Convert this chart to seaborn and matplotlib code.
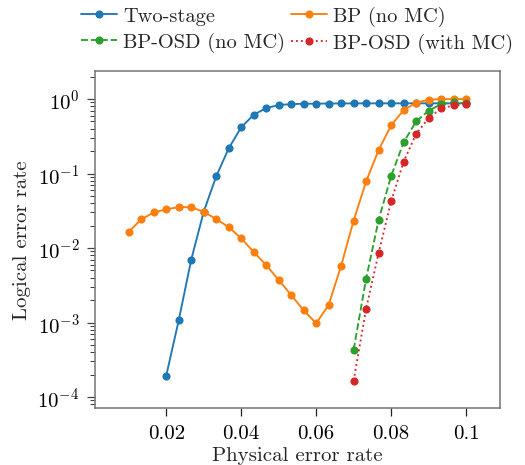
import numpy as np
import pandas as pd
import matplotlib
matplotlib.use("Agg")
import matplotlib.pyplot as plt
import seaborn as sns

# Physical error rates (grid step 1/300 from 0.01 to 0.1)
p_all = np.linspace(0.01, 0.1, 28)
p_two_stage = p_all[3:]
p_osd = p_all[18:]

two_stage = [1.93e-4, 1.07e-3, 6.97e-3, 0.0307, 0.0917, 0.218, 0.417, 0.616,
             0.757, 0.831, 0.857, 0.865, 0.868, 0.872, 0.874, 0.875, 0.876,
             0.876, 0.877, 0.877, 0.877, 0.877, 0.877, 0.877, 0.877]
bp_no_mc = [0.01655, 0.0243, 0.0301, 0.0330, 0.0355, 0.0352, 0.0307, 0.0245,
            0.0191, 0.0135, 0.00884, 0.00591, 0.00372, 0.00234, 0.00146,
            0.000975, 0.00172, 0.00579, 0.0233, 0.0785, 0.207, 0.443, 0.711,
            0.893, 0.98, 1.0, 1.0, 1.0]
bposd_no_mc = [4.32e-4, 3.87e-3, 0.0238, 0.0925, 0.262, 0.501, 0.697, 0.857,
               0.90, 0.88]
bposd_mc = [1.66e-4, 1.53e-3, 8.57e-3, 0.0423, 0.144, 0.339, 0.556, 0.75,
            0.823, 0.857]

labels = ["Two-stage", "BP (no MC)", "BP-OSD (no MC)", "BP-OSD (with MC)"]
colors = ["#1f77b4", "#ff7f0e", "#2ca02c", "#d62728"]
styles = ["-", "-", "--", ":"]

sns.set_style("ticks")
plt.rcParams.update({
    "font.family": "serif",
    "font.serif": ["cmr10"],
    "mathtext.fontset": "cm",
    "axes.formatter.use_mathtext": True,
    "font.size": 10,
    "axes.edgecolor": "#777777",
    "axes.linewidth": 0.75,
    "xtick.color": "#222222",
    "ytick.color": "#444444",
    "xtick.labelcolor": "black",
    "ytick.labelcolor": "black",
})

fig = plt.figure(figsize=(3.5, 466 / 150), dpi=150)
ax = fig.add_axes([0.181, 0.1217, 0.952 - 0.181, 0.846 - 0.1217])

series = [(p_two_stage, two_stage), (p_all, bp_no_mc),
          (p_osd, bposd_no_mc), (p_osd, bposd_mc)]
for (x, y), lab, c, ls in zip(series, labels, colors, styles):
    df = pd.DataFrame({"p": x, "ler": y})
    sns.lineplot(data=df, x="p", y="ler", ax=ax, color=c, linestyle=ls,
                 marker="o", markersize=3.9, markeredgewidth=0,
                 linewidth=0.9, label=lab)

ax.set_yscale("log")
ax.set_xlim(0.001, 0.109)
ax.set_ylim(7.05e-5, 2.4)
ax.set_xticks([0.02, 0.04, 0.06, 0.08, 0.1])
ax.set_xticklabels(["0.02", "0.04", "0.06", "0.08", "0.1"])
ax.tick_params(axis="both", which="major", length=4.0, width=0.6)
ax.tick_params(axis="y", which="minor", length=2.6, width=0.5)
ax.set_xlabel("Physical error rate", labelpad=2)
ax.set_ylabel("Logical error rate", labelpad=3)

h, l = ax.get_legend_handles_labels()
order = [0, 2, 1, 3]
ax.legend([h[i] for i in order], [l[i] for i in order], ncol=2,
          loc="lower center", bbox_to_anchor=(0.5, 1.0), frameon=False,
          fontsize=9.8, handlelength=1.75, handletextpad=0.3,
          columnspacing=0.3, labelspacing=0.36, borderaxespad=0.45)

fig.savefig("out.png", dpi=150)
